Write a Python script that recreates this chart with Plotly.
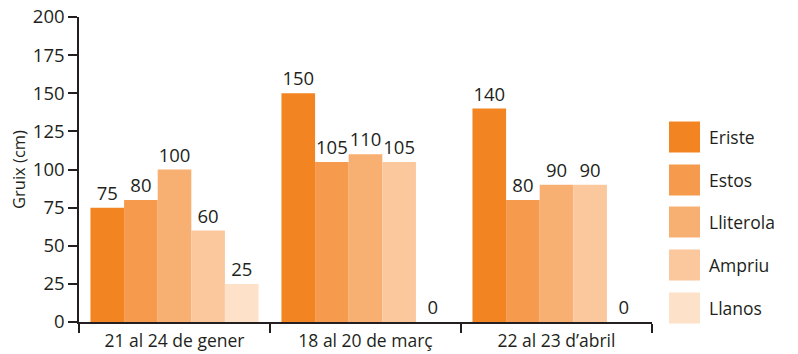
import plotly.graph_objects as go

categories = ["21 al 24 de gener", "18 al 20 de març", "22 al 23 d’abril"]
series_names = ["Eriste", "Estos", "Lliterola", "Ampriu", "Llanos"]
eriste = [75, 150, 140]
estos = [80, 105, 80]
lliterola = [100, 110, 90]
ampriu = [60, 105, 90]
llanos = [25, 0, 0]
y_ticks = [0, 25, 50, 75, 100, 125, 150, 175, 200]

colors = ["#F28521", "#F69B4E", "#F8AF72", "#FBC79D", "#FDE1C8"]
values = [eriste, estos, lliterola, ampriu, llanos]

FONT = "Open Sans"
INK = "#231F20"

fig = go.Figure()
for name, vals, col in zip(series_names, values, colors):
    fig.add_trace(go.Bar(
        name=name, x=categories, y=vals,
        marker=dict(color=col, line=dict(width=0)),
        text=[str(v) for v in vals], textposition="outside",
        textfont=dict(family=FONT, size=18.5, color=INK),
        cliponaxis=False, showlegend=False,
    ))

# Legend drawn as swatches + labels on the right
shapes = []
annotations = []
row_y = [137, 180, 222, 265, 308]
for name, col, yc in zip(series_names, colors, row_y):
    shapes.append(dict(type="rect", xref="paper", yref="paper",
                       x0=(669 - 79) / 573, x1=(700 - 79) / 573,
                       y0=(322 - (yc + 15.5)) / 305, y1=(322 - (yc - 15.5)) / 305,
                       fillcolor=col, line=dict(width=0)))
    annotations.append(dict(xref="paper", yref="paper",
                            x=(707 - 79) / 573, y=(322 - yc) / 305,
                            xanchor="left", yanchor="middle", showarrow=False,
                            text=name, font=dict(family=FONT, size=17.5, color=INK)))

fig.update_layout(
    width=798, height=354,
    margin=dict(l=79, r=146, t=17, b=32),
    paper_bgcolor="white", plot_bgcolor="white",
    barmode="group", bargap=0.12, bargroupgap=0,
    shapes=shapes, annotations=annotations,
    font=dict(family=FONT, size=17, color=INK),
    xaxis=dict(
        automargin=False,
        showgrid=False, showline=True, linecolor=INK, linewidth=1.5,
        ticks="outside", ticklen=9, tickcolor=INK, tickwidth=1.5,
        tickson="boundaries", tickfont=dict(family=FONT, size=17.5, color=INK),
        ticklabelstandoff=2, mirror=False,
    ),
    yaxis=dict(
        automargin=False,
        range=[0, 200], tickvals=y_ticks, showgrid=False, zeroline=False,
        showline=True, linecolor=INK, linewidth=1.5,
        ticks="outside", ticklen=9, tickcolor=INK, tickwidth=1.5,
        tickfont=dict(family=FONT, size=18.5, color=INK),
        title=dict(text="Gruix (cm)", font=dict(family=FONT, size=16.5, color=INK), standoff=3),
    ),
)

fig.write_html("out.html")
